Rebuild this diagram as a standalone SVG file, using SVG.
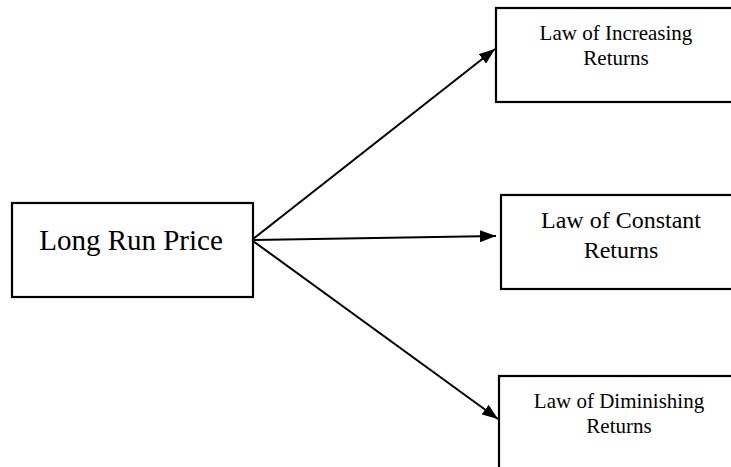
<svg xmlns="http://www.w3.org/2000/svg" width="731" height="467" viewBox="0 0 731 467">
<style>
.box{fill:#fff;stroke:#000;stroke-width:2.2}
.t{font-family:"Liberation Serif",serif;fill:#000;text-anchor:middle}
.c{stroke:#000;stroke-width:2;fill:none}
</style>
<defs>
<marker id="ah" viewBox="0 0 16 12" refX="16" refY="6" markerWidth="16" markerHeight="12" orient="auto" markerUnits="userSpaceOnUse">
<path d="M0,0 L16,6 L0,12 z" fill="#000"/>
</marker>
</defs>
<rect width="731" height="467" fill="#fff"/>
<g id="connectors">
<line class="c" x1="253" y1="239" x2="495" y2="49" marker-end="url(#ah)"/>
<line class="c" x1="253" y1="240" x2="496" y2="236" marker-end="url(#ah)"/>
<line class="c" x1="253" y1="241" x2="498" y2="419" marker-end="url(#ah)"/>
</g>
<g id="long-run-price">
<rect class="box" x="12" y="203" width="241" height="94"/>
<text class="t" x="131" y="250" font-size="29">Long Run Price</text>
</g>
<g id="increasing">
<rect class="box" x="496" y="8" width="245" height="94"/>
<text class="t" x="616" y="40" font-size="21">Law of Increasing</text>
<text class="t" x="616" y="65" font-size="21">Returns</text>
</g>
<g id="constant">
<rect class="box" x="501" y="195" width="240" height="94"/>
<text class="t" x="621" y="228" font-size="24">Law of Constant</text>
<text class="t" x="621" y="258" font-size="24">Returns</text>
</g>
<g id="diminishing">
<rect class="box" x="499" y="376" width="242" height="100"/>
<text class="t" x="619" y="408" font-size="21">Law of Diminishing</text>
<text class="t" x="619" y="433" font-size="21">Returns</text>
</g>
</svg>
